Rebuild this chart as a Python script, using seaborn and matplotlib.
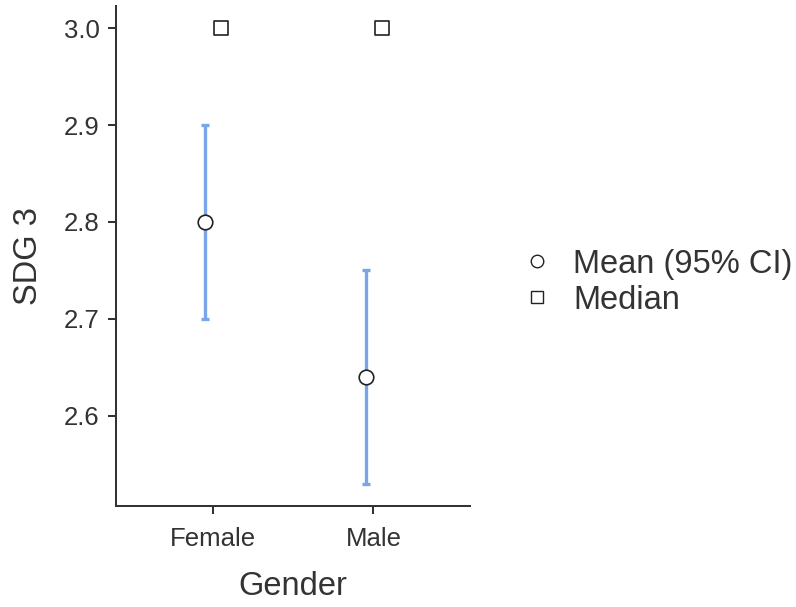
import numpy as np
import pandas as pd
import matplotlib
matplotlib.use("Agg")
import matplotlib.pyplot as plt
from matplotlib.lines import Line2D
import seaborn as sns

# values
genders = ["Female", "Male"]
means = [2.80, 2.64]
ci_low = [2.70, 2.53]
ci_high = [2.90, 2.75]
medians = [3.0, 3.0]
y_ticks = [2.6, 2.7, 2.8, 2.9, 3.0]

sns.set_theme(style="ticks")
plt.rcParams["font.family"] = ["Liberation Sans", "DejaVu Sans"]
text_col = "#333333"
bar_col = "#78A6E8"

pos = np.arange(len(genders))
df = pd.DataFrame({
    "Gender": genders,
    "mean": means,
    "lo": ci_low,
    "hi": ci_high,
    "median": medians,
    "x_mean": pos - 0.048,
    "x_med": pos + 0.05,
})

fig = plt.figure(figsize=(7.96, 6.07), dpi=100)
ax = fig.add_axes([0.1457, 0.1664, 0.4448, 0.8236])

ax.errorbar(df["x_mean"], df["mean"],
            yerr=[df["mean"] - df["lo"], df["hi"] - df["mean"]],
            fmt="none", ecolor=bar_col, elinewidth=2.4, capsize=2.9,
            capthick=2.4, zorder=2)
sns.scatterplot(data=df, x="x_mean", y="mean", marker="o", s=110,
                color="white", edgecolor="#222222", linewidth=1.2,
                ax=ax, zorder=3, legend=False)
sns.scatterplot(data=df, x="x_med", y="median", marker="s", s=90,
                color="white", edgecolor="#222222", linewidth=1.2,
                ax=ax, zorder=3, legend=False)

ax.set_xlim(-0.6, 1.6)
ax.set_ylim(2.507, 3.0227)
ax.set_xticks(pos)
ax.set_xticklabels(genders)
ax.set_yticks(y_ticks)
ax.set_yticklabels([f"{v:.1f}" for v in y_ticks])
ax.set_xlabel("Gender", fontsize=23.5, color=text_col, labelpad=14)
ax.set_ylabel("SDG 3", fontsize=23.5, color=text_col, labelpad=14)
ax.tick_params(axis="both", labelsize=18.5, colors=text_col, length=5.8,
               width=1.45)
ax.tick_params(axis="x", pad=9.5)
ax.tick_params(axis="y", pad=6)
for side in ["left", "bottom"]:
    ax.spines[side].set_linewidth(1.45)
    ax.spines[side].set_color(text_col)
sns.despine(ax=ax)

handles = [
    Line2D([], [], linestyle="none", marker="o", markersize=9,
           markerfacecolor="white", markeredgecolor="#222222", markeredgewidth=1),
    Line2D([], [], linestyle="none", marker="s", markersize=8.5,
           markerfacecolor="white", markeredgecolor="#222222", markeredgewidth=1),
]
fig.legend(handles, ["Mean (95% CI)", "Median"], loc="center left",
           bbox_to_anchor=(0.634, 0.535), frameon=False, fontsize=23.5,
           labelcolor=text_col, handlelength=1.0, handletextpad=0.6,
           labelspacing=0.15, borderpad=0)

fig.savefig("out.png", dpi=100)
